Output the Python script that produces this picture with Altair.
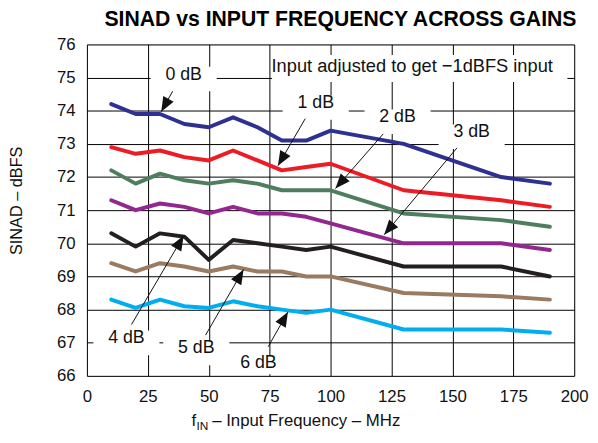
import math
import altair as alt
import pandas as pd

# ---------------- data ----------------
freqs = [10, 20, 30, 40, 50, 60, 70, 80, 90, 100, 130, 170, 190]
gains = ["0 dB", "1 dB", "2 dB", "3 dB", "4 dB", "5 dB", "6 dB"]
sinad_0db = [74.2, 73.9, 73.9, 73.6, 73.5, 73.8, 73.5, 73.1, 73.1, 73.4, 73.0, 72.0, 71.8]
sinad_1db = [72.9, 72.7, 72.8, 72.6, 72.5, 72.8, 72.5, 72.2, 72.3, 72.4, 71.6, 71.3, 71.1]
sinad_2db = [72.2, 71.8, 72.1, 71.9, 71.8, 71.9, 71.8, 71.6, 71.6, 71.6, 70.9, 70.7, 70.5]
sinad_3db = [71.3, 71.0, 71.2, 71.1, 70.9, 71.1, 70.9, 70.9, 70.8, 70.6, 70.0, 70.0, 69.8]
sinad_4db = [70.3, 69.9, 70.3, 70.2, 69.5, 70.1, 70.0, 69.9, 69.8, 69.9, 69.3, 69.3, 69.0]
sinad_5db = [69.4, 69.15, 69.4, 69.3, 69.15, 69.3, 69.15, 69.15, 69.0, 69.0, 68.5, 68.4, 68.3]
sinad_6db = [68.3, 68.05, 68.3, 68.1, 68.05, 68.25, 68.1, 68.0, 67.9, 68.0, 67.4, 67.4, 67.3]
series = [sinad_0db, sinad_1db, sinad_2db, sinad_3db, sinad_4db, sinad_5db, sinad_6db]
colors = ["#2E3192", "#ED1C24", "#4E7E5E", "#92278F", "#231F20", "#9A7A60", "#00AEEF"]

x_ticks = [0, 25, 50, 75, 100, 125, 150, 175, 200]
y_ticks = [66, 67, 68, 69, 70, 71, 72, 73, 74, 75, 76]

title_text = "SINAD vs INPUT FREQUENCY ACROSS GAINS"
y_title = "SINAD \u2013 dBFS"
x_title_main = "f"
x_title_sub = "IN"
x_title_rest = "\u2013 Input Frequency \u2013 MHz"
note_text = "Input adjusted to get \u22121dBFS input"

# annotation label centres (data units)
label_x = [39.7, 93.9, 127.5, 157.9, 16.2, 44.9, 70.4]
label_y = [75.09, 74.23, 73.80, 73.35, 67.13, 66.83, 66.39]
# arrow start / tip (data units)
arrow_x0 = [35.2, 89.6, 121.6, 151.9, 18.3, 48.7, 74.4]
arrow_y0 = [74.59, 73.76, 73.30, 72.88, 67.55, 67.23, 66.88]
arrow_x1 = [30.5, 78.4, 102.0, 122.0, 39.7, 64.3, 82.5]
arrow_y1 = [73.97, 72.34, 71.65, 70.26, 70.23, 69.21, 67.93]
note_x, note_y = 133.5, 75.36

W, H = 494, 336
X_DOM, Y_DOM = [0, 200], [66, 76]
PX_X = W / (X_DOM[1] - X_DOM[0])
PX_Y = H / (Y_DOM[1] - Y_DOM[0])
FONT = "Liberation Sans"

# ---------------- tables ----------------
rows = []
for g, vals in zip(gains, series):
    for f, v in zip(freqs, vals):
        rows.append({"freq": f, "sinad": v, "gain": g})
df = pd.DataFrame(rows)

ann = pd.DataFrame({"label": gains, "lx": label_x, "ly": label_y,
                    "x0": arrow_x0, "y0": arrow_y0, "x1": arrow_x1, "y1": arrow_y1})
def rot(r):
    dx = (r.x1 - r.x0) * PX_X
    dy = -(r.y1 - r.y0) * PX_Y
    return (math.degrees(math.atan2(dy, dx)) - 90) % 360
ann["ang"] = ann.apply(rot, axis=1)
hw = 33.5 / PX_X
ann["bx0"] = ann.lx - hw
ann["bx1"] = ann.lx + hw
ann["by0"] = ann.ly + 8 / PX_Y
ann["by1"] = (ann.ly - 17 / PX_Y).clip(lower=66.05)

boxes = pd.concat([
    ann[["bx0", "bx1", "by0", "by1"]],
    pd.DataFrame({"bx0": [note_x - 57.5], "bx1": [197.2], "by0": [75.68], "by1": [74.87]}),
])

xs = alt.Scale(domain=X_DOM, nice=False, zero=False)
ys = alt.Scale(domain=Y_DOM, nice=False, zero=False)

x_axis = alt.Axis(values=x_ticks, title=None, grid=True, gridColor="#000000",
                  gridWidth=1, gridOpacity=1, ticks=False, domain=False,
                  labelFontSize=17, labelPadding=13, labelColor="#111111",
                  labelFont=FONT, labelFlush=False, labelOverlap=False)
y_axis = alt.Axis(values=y_ticks, title=y_title, grid=True, gridColor="#000000",
                  gridWidth=1, gridOpacity=1, ticks=False, domain=False,
                  labelFontSize=17, labelPadding=12, labelColor="#111111",
                  labelFont=FONT, labelFlush=False, labelOverlap=False,
                  titleFont=FONT, titleFontSize=16.5,
                  titleFontWeight="normal", titleColor="#111111",
                  titleAngle=270, titleAlign="center", titleBaseline="middle",
                  titleX=-71.5, titleY=158)

rects = alt.Chart(boxes).mark_rect(fill="white", stroke=None).encode(
    x=alt.X("bx0:Q", scale=xs, axis=x_axis), x2="bx1:Q",
    y=alt.Y("by0:Q", scale=ys, axis=y_axis), y2="by1:Q",
)

lines = alt.Chart(df).mark_line(strokeWidth=4, strokeCap="round", strokeJoin="round").encode(
    x=alt.X("freq:Q", scale=xs, axis=x_axis),
    y=alt.Y("sinad:Q", scale=ys, axis=y_axis),
    color=alt.Color("gain:N", scale=alt.Scale(domain=gains, range=colors), legend=None),
    detail="gain:N",
)

arrows = alt.Chart(ann).mark_rule(color="#111111", strokeWidth=1).encode(
    x=alt.X("x0:Q", scale=xs, axis=x_axis), x2="x1:Q",
    y=alt.Y("y0:Q", scale=ys, axis=y_axis), y2="y1:Q",
)
heads = alt.Chart(ann).mark_point(
    shape="M0,0L-0.8,-2L0.8,-2Z", filled=True, fill="#111111", stroke=None,
    opacity=1, size=225,
).encode(
    x=alt.X("x1:Q", scale=xs, axis=x_axis), y=alt.Y("y1:Q", scale=ys, axis=y_axis),
    angle=alt.Angle("ang:Q", scale=None),
)
labels = alt.Chart(ann).mark_text(font=FONT, fontSize=18, color="#111111",
                                  align="center", baseline="middle").encode(
    x=alt.X("lx:Q", scale=xs, axis=x_axis), y=alt.Y("ly:Q", scale=ys, axis=y_axis),
    text="label:N",
)
note = alt.Chart(pd.DataFrame({"t": [note_text], "x": [note_x], "y": [note_y]})).mark_text(
    font=FONT, fontSize=18.5, color="#111111", align="center", baseline="middle"
).encode(x=alt.X("x:Q", scale=xs, axis=x_axis), y=alt.Y("y:Q", scale=ys, axis=y_axis),
         text="t:N")

title = alt.Chart(pd.DataFrame({"t": [title_text]})).mark_text(
    font=FONT, fontSize=21.5, fontWeight="bold", color="#000000",
    align="center", baseline="middle"
).encode(text="t:N", x=alt.value(257), y=alt.value(-24.5))

xt1 = alt.Chart(pd.DataFrame({"t": [x_title_main]})).mark_text(
    font=FONT, fontSize=17, color="#111111", align="left", baseline="alphabetic"
).encode(text="t:N", x=alt.value(106), y=alt.value(387))
xt2 = alt.Chart(pd.DataFrame({"t": [x_title_sub]})).mark_text(
    font=FONT, fontSize=12, color="#111111", align="left", baseline="alphabetic"
).encode(text="t:N", x=alt.value(111), y=alt.value(391))
xt3 = alt.Chart(pd.DataFrame({"t": [x_title_rest]})).mark_text(
    font=FONT, fontSize=17, color="#111111", align="left", baseline="alphabetic"
).encode(text="t:N", x=alt.value(127), y=alt.value(387))

chart = alt.layer(rects, lines, arrows, heads, labels, note, title, xt1, xt2, xt3).properties(
    width=W, height=H,
    autosize=alt.AutoSizeParams(type="none"),
    padding={"left": 80, "top": 34, "right": 16, "bottom": 57},
).configure_view(stroke="#333333", strokeWidth=2).configure(background="white")

chart.save("out.html", embed_options={"renderer": "svg", "actions": False})
